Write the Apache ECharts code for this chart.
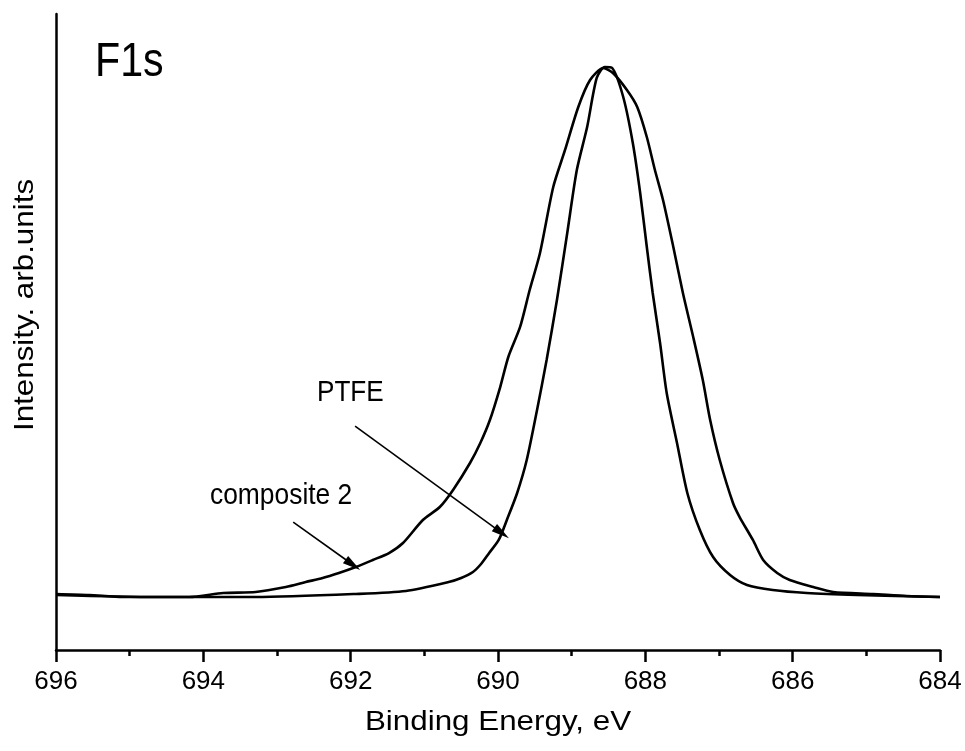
<!DOCTYPE html>
<html>
<head>
<meta charset="utf-8">
<script src="https://cdn.jsdelivr.net/npm/echarts@6/dist/echarts.min.js"></script>
<style>html,body{margin:0;padding:0;background:#fff}#c{width:965px;height:751px}</style>
</head>
<body>
<div id="c"></div>
<script>
// Binding energy (eV) and intensity (arb. units)
const compositeX = [696.00,695.55,695.09,694.64,694.19,693.73,693.29,692.88,692.61,692.38,692.16,691.93,691.70,691.48,691.29,691.02,690.79,690.61,690.38,690.24,690.11,689.97,689.86,689.70,689.57,689.43,689.25,689.09,688.91,688.75,688.57,688.44,688.25,688.11,687.98,687.87,687.76,687.62,687.49,687.35,687.22,687.12,686.99,686.81,686.72,686.54,686.40,686.21,686.04,685.72,685.45,684.91,684.45,684.00];
const compositeY = [8.81,8.65,8.33,8.33,8.33,8.96,9.12,9.91,10.69,11.32,12.11,13.05,14.15,15.25,16.82,20.44,22.48,25.16,29.40,32.55,36.16,41.35,46.07,50.79,56.60,62.42,72.80,78.62,85.38,89.62,91.51,90.72,88.05,85.38,80.66,75.47,70.75,63.36,56.13,49.21,42.45,36.16,29.87,23.11,20.91,17.30,14.15,12.11,11.01,9.91,9.12,8.81,8.49,8.33];
const ptfeX = [696.00,694.64,693.29,691.93,691.25,690.67,690.50,690.34,690.23,690.12,689.99,689.88,689.74,689.61,689.47,689.34,689.20,689.06,688.93,688.79,688.66,688.55,688.45,688.30,688.17,688.07,687.98,687.90,687.80,687.71,687.57,687.43,687.26,687.08,686.85,686.62,686.27,685.81,685.13,684.00];
const ptfeY = [8.65,8.33,8.33,8.81,9.28,10.69,11.32,12.26,13.52,15.25,17.30,20.44,24.69,29.87,37.74,45.60,55.03,65.57,75.47,82.23,89.94,91.67,91.51,86.95,79.72,71.86,63.36,56.13,48.27,40.41,32.55,24.69,18.87,14.62,11.79,10.22,9.43,8.96,8.65,8.33];
const xTicks = [684, 686, 688, 690, 692, 694, 696];

const chart = echarts.init(document.getElementById('c'), null, {renderer: 'canvas'});
const pair = (xs, ys) => xs.map((x, i) => [x, ys[i]]);
const FONT = 'Liberation Sans, Arial, sans-serif';
const arrowPath = 'path://M5,0 L10,20 L0,20 Z';

chart.setOption({
  animation: false,
  backgroundColor: '#fff',
  grid: {left: 56, right: 25, top: 14, bottom: 101},
  xAxis: {
    type: 'value', min: xTicks[0], max: xTicks[xTicks.length - 1], interval: 2, inverse: true,
    axisLine: {show: true, onZero: false, lineStyle: {color: '#000', width: 2.5}},
    axisTick: {show: true, inside: false, length: 12, lineStyle: {color: '#000', width: 2.5}},
    minorTick: {show: true, splitNumber: 2, length: 6, lineStyle: {color: '#000', width: 2.5}},
    splitLine: {show: false},
    axisLabel: {color: '#000', fontSize: 26, fontFamily: FONT, margin: 19}
  },
  yAxis: {
    type: 'value', min: 0, max: 100,
    axisLine: {show: true, lineStyle: {color: '#000', width: 2.5}},
    axisTick: {show: false}, axisLabel: {show: false}, splitLine: {show: false}
  },
  graphic: [
    {type: 'text', x: 95, y: 62, scaleX: 0.84, style: {text: 'F1s', fill: '#000', font: '49px ' + FONT, verticalAlign: 'middle'}},
    {type: 'text', x: 317, y: 393, scaleX: 0.9, style: {text: 'PTFE', fill: '#000', font: '29px ' + FONT, verticalAlign: 'middle'}},
    {type: 'text', x: 210, y: 496, scaleX: 0.91, style: {text: 'composite 2', fill: '#000', font: '29px ' + FONT, verticalAlign: 'middle'}},
    {type: 'text', x: 25, y: 305, rotation: Math.PI / 2, scaleX: 1.12, style: {text: 'Intensity. arb.units', fill: '#000', font: '28px ' + FONT, align: 'center', verticalAlign: 'middle'}},
    {type: 'text', x: 498, y: 722, scaleX: 1.12, style: {text: 'Binding Energy, eV', fill: '#000', font: '28px ' + FONT, align: 'center', verticalAlign: 'middle'}}
  ],
  series: [
    {
      name: 'composite 2', type: 'line', data: pair(compositeX, compositeY), showSymbol: false,
      smooth: 0.25,
      lineStyle: {color: '#000', width: 2.6}, silent: true,
      markLine: {
        silent: true, animation: false,
        symbol: ['none', arrowPath], symbolSize: 18, symbolKeepAspect: true,
        label: {show: false},
        lineStyle: {color: '#000', width: 1.6, type: 'solid'},
        data: [
          [{coord: [691.94, 35.2]}, {coord: [689.95, 18.4]}],
          [{coord: [692.78, 20.1]}, {coord: [691.97, 13.4]}]
        ]
      }
    },
    {
      name: 'PTFE', type: 'line', data: pair(ptfeX, ptfeY), showSymbol: false,
      smooth: 0.25,
      lineStyle: {color: '#000', width: 2.6}, silent: true
    }
  ]
});
</script>
</body>
</html>
